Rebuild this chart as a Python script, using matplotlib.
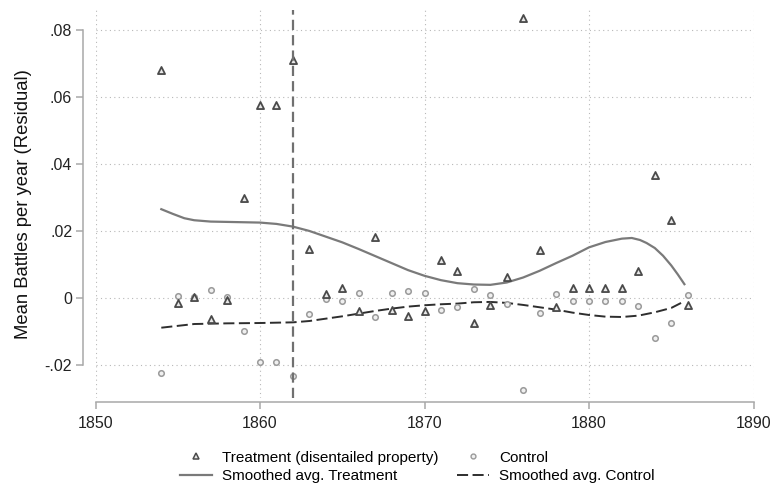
import matplotlib
matplotlib.use("Agg")
import matplotlib.pyplot as plt
from matplotlib.lines import Line2D

plt.rcParams['font.family'] = ['Liberation Sans', 'DejaVu Sans']

years = list(range(1854, 1887))

treatment = [0.0681, -0.0015, 0.0003, -0.0063, -0.0005, 0.0299, 0.0577, 0.0577,
             0.0711, 0.0147, 0.0013, 0.0031, -0.0037, 0.0184, -0.0035, -0.0053,
             -0.0037, 0.0114, 0.0082, -0.0073, -0.0020, 0.0064, 0.0837, 0.0144,
             -0.0025, 0.0030, 0.0030, 0.0030, 0.0030, 0.0081, 0.0368, 0.0234,
             -0.0020]

control = [-0.0224, 0.0007, 0.0003, 0.0025, 0.0005, -0.0097, -0.0189, -0.0189,
           -0.0232, -0.0047, -0.0002, -0.0007, 0.0015, -0.0057, 0.0015, 0.0022,
           0.0015, -0.0035, -0.0025, 0.0027, 0.0010, -0.0018, -0.0274, -0.0043,
           0.0012, -0.0007, -0.0007, -0.0007, -0.0007, -0.0023, -0.0118, -0.0073,
           0.0010]

smooth_t_x = [1854, 1854.7, 1855.4, 1856, 1857, 1858, 1859, 1860, 1861, 1862,
              1863, 1864, 1865, 1866, 1867, 1868, 1869, 1870, 1871, 1872, 1873,
              1874, 1875, 1876, 1877, 1878, 1879, 1880, 1881, 1882, 1882.6,
              1883.1, 1883.5, 1884, 1884.5, 1885, 1885.4, 1885.8]
smooth_t_y = [0.0266, 0.0252, 0.0239, 0.0233, 0.0229, 0.0228, 0.0227, 0.0226,
              0.0222, 0.0214, 0.0201, 0.0184, 0.0167, 0.0147, 0.0126, 0.0105,
              0.0084, 0.0067, 0.0054, 0.0045, 0.0041, 0.0040, 0.0047, 0.0062,
              0.0082, 0.0105, 0.0127, 0.0152, 0.0168, 0.0178, 0.0180, 0.0174,
              0.0165, 0.0150, 0.0127, 0.0098, 0.0071, 0.0042]

smooth_c_x = [1854, 1856, 1858, 1860, 1862, 1863, 1864, 1865, 1866, 1867, 1868,
              1869, 1870, 1871, 1872, 1873, 1874, 1875, 1876, 1877, 1878, 1879,
              1880, 1881, 1882, 1883, 1884, 1885, 1885.8]
smooth_c_y = [-0.0088, -0.0077, -0.0075, -0.0074, -0.0072, -0.0068, -0.0061,
              -0.0054, -0.0046, -0.0038, -0.0031, -0.0025, -0.0021, -0.0018,
              -0.0016, -0.0012, -0.0011, -0.0014, -0.0020, -0.0027, -0.0034,
              -0.0043, -0.0050, -0.0055, -0.0056, -0.0052, -0.0042, -0.0029,
              -0.0009]

reform_year = 1862

x_ticks = [1850, 1860, 1870, 1880, 1890]
y_ticks = [-0.02, 0.0, 0.02, 0.04, 0.06, 0.08]
y_tick_labels = ['-.02', '0', '.02', '.04', '.06', '.08']

fig = plt.figure(figsize=(7.71, 4.91), dpi=100)
# plot region: x 95.5..753.5 px, y 10..398 px (from top)
ax = fig.add_axes([95.5 / 771, 93 / 491, 658 / 771, 388 / 491])

ax.set_xlim(1850, 1890)
ax.set_ylim(-0.0298, 0.0861)

grid_kw = dict(color='#b8b8b8', linestyle=(0, (1, 3)), linewidth=0.8, zorder=0)
for yt in y_ticks:
    ax.axhline(yt, **grid_kw)
for xt in x_ticks:
    ax.axvline(xt, **grid_kw)

ctrl_dash = (5.7, 2.3)
ax.plot(smooth_t_x, smooth_t_y, color='#7a7a7a', linewidth=1.6, zorder=2)
ax.plot(smooth_c_x, smooth_c_y, color='#2e2e2e', linewidth=1.4,
        dashes=ctrl_dash, zorder=2)

ax.scatter(years, control, marker='o', s=16, facecolors='#f0f0f0',
           edgecolors='#9a9a9a', linewidths=1.1, zorder=3)
ax.scatter(years, treatment, marker='^', s=26, facecolors='#e8e8e8',
           edgecolors='#4a4a4a', linewidths=1.3, zorder=4)

ax.axvline(reform_year, color='#707070', linewidth=1.6, dashes=(4.6, 2.3), zorder=5)

for side in ('top', 'right'):
    ax.spines[side].set_visible(False)
ax.spines['left'].set_position(('outward', 8.8))
ax.spines['bottom'].set_position(('outward', 3.2))
ax.spines['left'].set_bounds(-0.02, 0.08)
ax.spines['bottom'].set_bounds(1850, 1890)
for side in ('left', 'bottom'):
    ax.spines[side].set_color('#a8a8a8')
    ax.spines[side].set_linewidth(1.1)

ax.set_xticks(x_ticks)
ax.set_yticks(y_ticks)
ax.set_yticklabels(y_tick_labels)
ax.tick_params(axis='both', colors='#a8a8a8', labelcolor='#222222',
               length=5, width=1.1, labelsize=11.5)
ax.tick_params(axis='x', pad=5)
ax.tick_params(axis='y', pad=3)

ax.set_ylabel('Mean Battles per year (Residual)', fontsize=13.3,
              color='#111111', labelpad=9)

handles = [
    Line2D([], [], linestyle='none', marker='^', markersize=4.5,
           markerfacecolor='#e8e8e8', markeredgecolor='#4a4a4a',
           markeredgewidth=1.1),
    Line2D([], [], color='#7a7a7a', linewidth=1.6),
    Line2D([], [], linestyle='none', marker='o', markersize=3.5,
           markerfacecolor='#f0f0f0', markeredgecolor='#9a9a9a',
           markeredgewidth=1.0),
    Line2D([], [], color='#2e2e2e', linewidth=1.4, dashes=ctrl_dash),
]
labels = ['Treatment (disentailed property)', 'Smoothed avg. Treatment',
          'Control', 'Smoothed avg. Control']
fig.legend(handles, labels, ncol=2, loc='center', frameon=False,
           bbox_to_anchor=(417 / 771, 1 - 467 / 491), fontsize=11,
           handlelength=2.1, handletextpad=0.65, columnspacing=1.24,
           labelspacing=0.3, borderpad=0)

fig.savefig('out.png', dpi=100)
